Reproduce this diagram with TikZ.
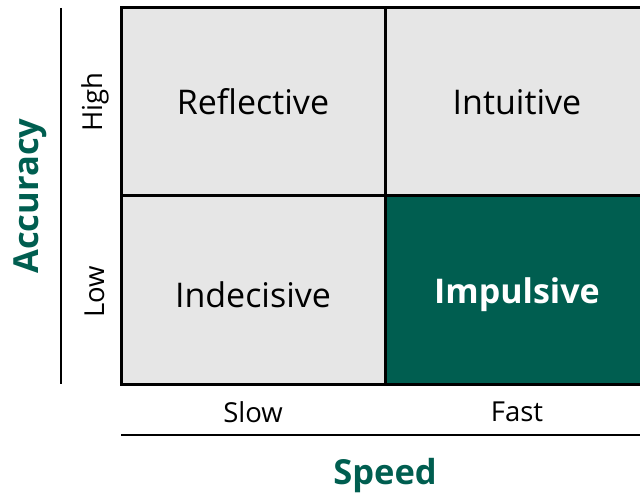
\documentclass[tikz,border=0pt]{standalone}
\usepackage{fontspec}
\setmainfont{Open Sans}
\definecolor{darkteal}{HTML}{005E50}
\definecolor{cellgray}{HTML}{E6E6E6}

\begin{document}
\begin{tikzpicture}[x=1pt,y=-1pt,
    cell/.style={rectangle, draw, line width=3pt, fill=cellgray, minimum width=264pt, minimum height=188pt},
    hot/.style={cell, fill=darkteal},
    word/.style={font=\fontsize{34}{40}\selectfont},
    hotword/.style={text=white, font=\fontsize{34}{40}\selectfont\bfseries},
    tick/.style={font=\fontsize{27.5}{33}\selectfont},
    axis/.style={text=darkteal, font=\fontsize{34.5}{41}\selectfont\bfseries}]
    \useasboundingbox (0,0) rectangle (640,497);
    \clip (0,0) rectangle (640,497);
    \node[cell] (topleft) at (253,102) {};
    \node[cell] (topright) at (517,102) {};
    \node[cell] (bottomleft) at (253,290) {};
    \node[hot] (bottomright) at (517,290) {};
    \node[word] (reflective) at (253,102) {Reflective};
    \node[word] (intuitive) at (517,102) {Intuitive};
    \node[word] (indecisive) at (253,295) {Indecisive};
    \node[hotword] (impulsive) at (517,295) {Impulsive};
    \node[tick, rotate=90] (high) at (95,102) {High};
    \node[tick, rotate=90] (low) at (95,292) {Low};
    \node[tick] (slow) at (253,412) {Slow};
    \node[tick] (fast) at (517,412) {Fast};
    \node[axis, rotate=90] (accuracy) at (30,196) {Accuracy};
    \node[axis] (speed) at (385,476) {Speed};
    \coordinate (vtop) at (61,8);
    \coordinate (vbot) at (61,384);
    \coordinate (hleft) at (121,435);
    \coordinate (hright) at (650,435);
    \draw[line width=1.5pt] (vtop) -- (vbot);
    \draw[line width=2.5pt] (hleft) -- (hright);
\end{tikzpicture}
\end{document}
